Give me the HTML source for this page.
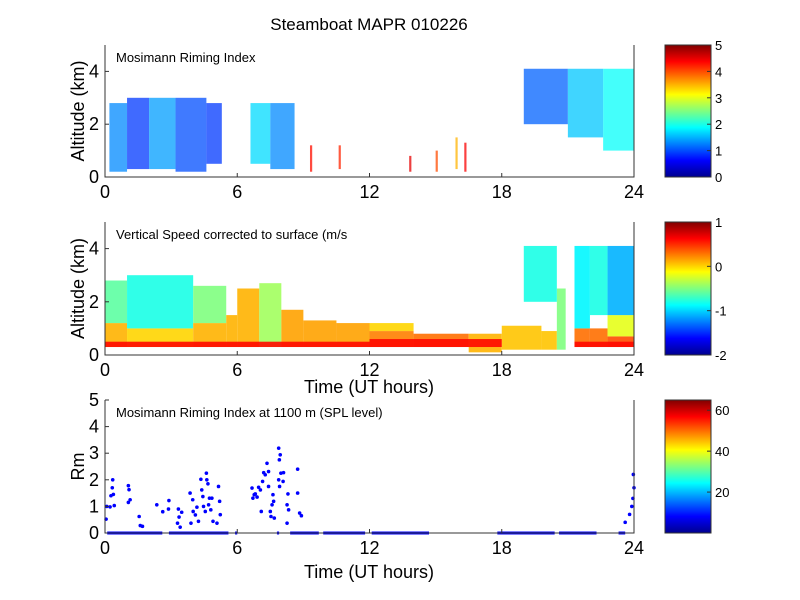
<!DOCTYPE html>
<html><head><meta charset="utf-8">
<style>
html,body{margin:0;padding:0;background:#fff;}
svg{display:block;font-family:"Liberation Sans",Arial,sans-serif;}
</style></head>
<body>
<svg id="chart" width="800" height="600" viewBox="0 0 800 600" xmlns="http://www.w3.org/2000/svg">
<defs>
<linearGradient id="jet" x1="0" y1="1" x2="0" y2="0">
<stop offset="0" stop-color="#00008f"/><stop offset="0.125" stop-color="#0000ff"/>
<stop offset="0.375" stop-color="#00ffff"/><stop offset="0.625" stop-color="#ffff00"/>
<stop offset="0.875" stop-color="#ff0000"/><stop offset="1" stop-color="#800000"/>
</linearGradient>
</defs>
<text x="369" y="30" font-size="17" text-anchor="middle">Steamboat MAPR 010226</text>
<g id="layer"></g>
</svg>
<script>
// x axis
const xTicks = [0, 6, 12, 18, 24];
// Panel 1: riming index segments [startHour, endHour, bottomKm, topKm, value]
const p1Start = [0.2, 1.0, 2.0, 3.2, 4.6, 6.6, 7.5, 19.0, 21.0, 22.6, 9.3, 10.6, 13.8, 15.0, 15.9, 16.3];
const p1End   = [1.0, 2.0, 3.2, 4.6, 5.3, 7.5, 8.6, 21.0, 22.6, 24.0, 9.4, 10.7, 13.9, 15.1, 16.0, 16.4];
const p1Bot   = [0.2, 0.3, 0.3, 0.2, 0.5, 0.5, 0.3, 2.0, 1.5, 1.0, 0.2, 0.3, 0.2, 0.2, 0.3, 0.2];
const p1Top   = [2.8, 3.0, 3.0, 3.0, 2.8, 2.8, 2.8, 4.1, 4.1, 4.1, 1.2, 1.2, 0.8, 1.0, 1.5, 1.3];
const p1Val   = [1.3, 0.9, 1.4, 1.0, 0.9, 1.7, 1.3, 1.1, 1.6, 1.9, 4.3, 4.2, 4.5, 4.0, 3.5, 4.4];
// Panel 2: vertical speed segments
const p2Start = [0.0, 0.0, 1.0, 1.0, 4.0, 4.0, 5.5, 6.0, 7.0, 8.0, 9.0, 10.5, 12.0, 12.0, 14.0, 16.5, 18.0, 19.8, 20.5, 21.3, 21.3, 22.0, 22.0, 22.8, 22.8, 22.8, 19.0, 0.0, 12.0, 21.3];
const p2End   = [1.0, 1.0, 4.0, 4.0, 5.5, 5.5, 6.0, 7.0, 8.0, 9.0, 10.5, 12.0, 14.0, 14.0, 16.5, 18.0, 19.8, 20.5, 20.9, 22.0, 22.0, 22.8, 22.8, 24.0, 24.0, 24.0, 20.5, 12.0, 18.0, 24.0];
const p2Bot   = [0.3, 1.2, 0.3, 1.0, 0.3, 1.2, 0.3, 0.3, 0.3, 0.3, 0.3, 0.3, 0.3, 0.9, 0.3, 0.1, 0.2, 0.2, 0.2, 0.3, 1.0, 0.3, 1.5, 0.3, 0.7, 1.5, 2.0, 0.3, 0.3, 0.3];
const p2Top   = [1.2, 2.8, 1.0, 3.0, 1.2, 2.6, 1.5, 2.5, 2.7, 1.7, 1.3, 1.2, 0.9, 1.2, 0.8, 0.8, 1.1, 0.9, 2.5, 1.0, 4.1, 1.0, 4.1, 0.7, 1.5, 4.1, 4.1, 0.5, 0.6, 0.5];
const p2Val   = [0.1, -0.6, 0.0, -0.8, 0.1, -0.5, 0.1, 0.1, -0.4, 0.15, 0.15, 0.15, 0.25, 0.0, 0.3, 0.1, 0.05, 0.05, -0.5, 0.3, -0.9, 0.3, -0.8, 0.4, -0.2, -1.1, -0.8, 0.6, 0.6, 0.6];
// Panel 3: scatter
const rmHours = [0.05,0.08,0.23,0.27,0.35,0.38,0.33,0.42,1.06,1.09,1.14,1.06,1.55,1.6,1.7,2.35,2.62,2.9,2.88,3.29,3.33,3.41,3.48,3.36,3.86,3.9,3.98,4.0,4.1,4.17,4.24,4.35,4.39,4.44,4.47,4.55,4.6,4.62,4.67,4.7,4.74,4.8,4.85,4.9,5.08,5.15,5.2,5.23,
 6.67,6.71,6.77,6.82,6.9,6.97,7.05,7.09,7.15,7.2,7.27,7.35,7.42,7.42,7.5,7.53,7.58,7.62,7.65,7.68,7.88,7.91,7.95,7.98,7.88,7.92,8.08,8.1,8.26,8.3,8.26,8.33,8.74,8.74,8.83,8.91,
 23.6,23.8,23.95,24.0,23.97,23.9];
const rmValues = [0.52,1.0,0.98,1.4,2.0,1.45,1.7,1.03,1.78,1.63,1.25,1.15,0.62,0.28,0.25,1.06,0.8,1.22,0.9,0.37,0.9,0.22,0.78,0.6,1.5,0.37,1.25,0.81,0.68,0.97,0.44,2.02,1.62,1.37,1.0,0.81,2.25,2.0,1.85,1.06,1.31,0.87,1.31,0.44,0.37,1.75,1.19,0.69,
 1.69,1.31,1.44,1.47,1.35,1.72,1.62,0.81,1.94,2.27,2.19,2.62,2.31,1.75,0.81,0.62,1.06,1.44,1.19,0.56,3.19,2.75,2.94,2.25,2.0,1.75,1.94,2.27,1.06,1.47,0.37,0.87,2.4,1.5,0.75,0.65,
 0.4,0.7,1.3,1.7,2.2,1.0];
const zeroStart = [0.1, 2.9, 5.9, 7.8, 8.4, 9.9, 12.1, 17.8, 20.6, 23.3];
const zeroEnd   = [2.6, 5.6, 6.0, 7.9, 9.7, 11.8, 14.7, 20.4, 22.3, 23.6];

const NS = "http://www.w3.org/2000/svg";
const layer = document.getElementById('layer');
function mk(tag, attrs, parent){ const e=document.createElementNS(NS,tag); for(const k in attrs) e.setAttribute(k,attrs[k]); (parent||layer).appendChild(e); return e; }
const X0=105, X1=634;
const xs = h => X0 + (h/24)*(X1-X0);
function jet(t){ t=Math.max(0,Math.min(1,t));
  const r=Math.max(0,Math.min(1,1.5-Math.abs(4*t-3))), g=Math.max(0,Math.min(1,1.5-Math.abs(4*t-2))), b=Math.max(0,Math.min(1,1.5-Math.abs(4*t-1)));
  return `rgb(${Math.round(r*255)},${Math.round(g*255)},${Math.round(b*255)})`; }

const panels = [
 {top:45,bot:177,ymax:5,yt:[0,2,4],ylab:'Altitude (km)',title:'Mosimann Riming Index',cb:[0,1,2,3,4,5],cmin:0,cmax:5,name:'riming-panel'},
 {top:222,bot:355,ymax:5,yt:[0,2,4],ylab:'Altitude (km)',title:'Vertical Speed corrected to surface (m/s',cb:[-2,-1,0,1],cmin:-2,cmax:1,name:'speed-panel'},
 {top:400,bot:533,ymax:5,yt:[0,1,2,3,4,5],ylab:'Rm',title:'Mosimann Riming Index at 1100 m (SPL level)',cb:[20,40,60],cmin:0,cmax:65,name:'rm-panel'}
];
panels.forEach((p,pi)=>{
  const ys = v => p.bot - (v/p.ymax)*(p.bot-p.top);
  const g = mk('g',{});
  
  
  if(pi<2){
    const S=pi?p2Start:p1Start,E=pi?p2End:p1End,B=pi?p2Bot:p1Bot,T=pi?p2Top:p1Top,V=pi?p2Val:p1Val;
    for(let i=0;i<S.length;i++){
      const r=mk('rect',{x:xs(S[i]),y:ys(T[i]),width:xs(E[i])-xs(S[i]),height:ys(B[i])-ys(T[i]),fill:jet((V[i]-p.cmin)/(p.cmax-p.cmin)),opacity:pi?0.9:0.75},g);
      
      
    }
  } else {
    for(let i=0;i<zeroStart.length;i++){
      const l=mk('line',{x1:xs(zeroStart[i]),x2:xs(zeroEnd[i]),y1:ys(0),y2:ys(0),stroke:'#0000ff','stroke-width':3},g);
      
      
    }
    for(let i=0;i<rmHours.length;i++){
      const c=mk('circle',{cx:xs(rmHours[i]),cy:ys(rmValues[i]),r:1.8,fill:'#0000ff'},g);
      
      
    }
  }
  const ax=mk('path',{d:`M${X0},${p.top}V${p.bot}H${X1}V${p.top}`,fill:'none',stroke:'#333','stroke-width':1},g);
  
  
  xTicks.forEach(t=>{
    mk('line',{x1:xs(t),x2:xs(t),y1:p.bot,y2:p.bot-4,stroke:'#333'},g);
    const tx=mk('text',{x:xs(t),y:p.bot+21,'font-size':18,'text-anchor':'middle'},g);
    tx.textContent=t;
    
    
  });
  p.yt.forEach(t=>{
    mk('line',{x1:X0,x2:X0+4,y1:ys(t),y2:ys(t),stroke:'#333'},g);
    const tx=mk('text',{x:X0-6,y:ys(t)+6,'font-size':18,'text-anchor':'end'},g);
    tx.textContent=t;
    
    
  });
  const yl=mk('text',{transform:`translate(84,${(p.top+p.bot)/2}) rotate(-90)`,'font-size':18,'text-anchor':'middle'},g);
  yl.textContent=p.ylab;
  
  
  const tt=mk('text',{x:116,y:p.top+17,'font-size':13},g);
  tt.textContent=p.title;
  
  
  const cb=mk('rect',{x:665,y:p.top,width:46,height:p.bot-p.top,fill:'url(#jet)',stroke:'#333'},g);
  
  
  p.cb.forEach(v=>{
    const y=p.bot-(v-p.cmin)/(p.cmax-p.cmin)*(p.bot-p.top);
    mk('line',{x1:707,x2:711,y1:y,y2:y,stroke:'#333'},g);
    const tx=mk('text',{x:715,y:y+5,'font-size':13},g);
    tx.textContent=v;
    
    
  });
});
[393,578].forEach(y=>{
  const t=mk('text',{x:369,y:y,'font-size':18,'text-anchor':'middle'});
  t.textContent='Time (UT hours)';
  
  
});
</script>
</body></html>
